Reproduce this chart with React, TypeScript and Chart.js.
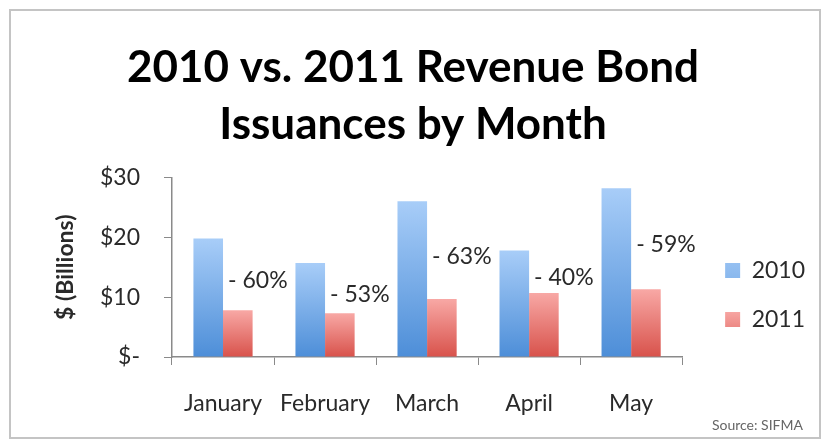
import React, { useEffect, useRef } from "react";
import { Chart, registerables } from "chart.js";

Chart.register(...registerables);

const months = ["January", "February", "March", "April", "May"];
const issuance2010 = [19.8, 15.7, 26.0, 17.8, 28.2];
const issuance2011 = [7.8, 7.3, 9.7, 10.7, 11.3];
const changeLabels = ["- 60%", "- 53%", "- 63%", "- 40%", "- 59%"];
const seriesNames = ["2010", "2011"];
const yTickValues = [0, 10, 20, 30];
const yTickLabels = ["$-", "$10", "$20", "$30"];
const titleLines = ["2010 vs. 2011 Revenue Bond", "Issuances by Month"];
const yAxisTitle = "$ (Billions)";
const sourceNote = "Source: SIFMA";

const FONT = "Lato, 'Open Sans', sans-serif";
const TEXT = "#2a2a2a";
const AXIS = "#8a8a8a";

function barGradient(top: string, bottom: string, solid: string) {
  return (ctx: any) => {
    const chart = ctx.chart;
    const y = chart.scales && chart.scales.y;
    if (ctx.type !== "data" || !y || !chart.chartArea) return solid;
    const v = ctx.parsed ? ctx.parsed.y : ctx.raw;
    const y0 = y.getPixelForValue(0);
    const y1 = y.getPixelForValue(v);
    if (!isFinite(y0) || !isFinite(y1) || y0 === y1) return solid;
    const g = chart.ctx.createLinearGradient(0, y1, 0, y0);
    g.addColorStop(0, top);
    g.addColorStop(1, bottom);
    return g;
  };
}

const changeLabelPlugin = {
  id: "changeLabels",
  afterDatasetsDraw(chart: any) {
    const m0 = chart.getDatasetMeta(0);
    const m1 = chart.getDatasetMeta(1);
    const ctx = chart.ctx;
    ctx.save();
    ctx.font = `23px ${FONT}`;
    ctx.fillStyle = TEXT;
    ctx.textAlign = "left";
    ctx.textBaseline = "middle";
    changeLabels.forEach((t, i) => {
      const b0 = m0.data[i];
      const b1 = m1.data[i];
      if (!b0 || !b1) return;
      const x = b1.x - b1.width / 2 + 5;
      const y = (b0.y + b1.y) / 2 + 6;
      ctx.fillText(t, x, y);
    });
    ctx.restore();
  },
};

const sourcePlugin = {
  id: "sourceNote",
  afterDraw(chart: any) {
    const ctx = chart.ctx;
    ctx.save();
    ctx.font = `14px ${FONT}`;
    ctx.fillStyle = "#666";
    ctx.textAlign = "right";
    ctx.textBaseline = "middle";
    ctx.fillText(sourceNote, chart.width - 16, chart.height - 12);
    ctx.restore();
  },
};

export default function App() {
  const ref = useRef<HTMLCanvasElement | null>(null);

  useEffect(() => {
    if (!ref.current) return;
    const chart = new Chart(ref.current, {
      type: "bar",
      data: {
        labels: months,
        datasets: [
          {
            label: seriesNames[0],
            data: issuance2010,
            backgroundColor: barGradient("#a8cdf8", "#4d8ed8", "#6fa8ec"),
            borderWidth: 0,
          },
          {
            label: seriesNames[1],
            data: issuance2011,
            backgroundColor: barGradient("#f8a8a5", "#d8524b", "#ec7d77"),
            borderWidth: 0,
          },
        ],
      },
      plugins: [changeLabelPlugin, sourcePlugin],
      options: {
        animation: false,
        responsive: true,
        maintainAspectRatio: false,
        layout: { padding: { left: 0, right: 4, top: 0, bottom: 22 } },
        datasets: {
          bar: { categoryPercentage: 0.58, barPercentage: 1 },
        },
        scales: {
          x: {
            offset: true,
            afterFit: (s: any) => {
              s.height = 58;
            },
            grid: {
              display: true,
              drawOnChartArea: false,
              tickLength: 8,
              color: AXIS,
              offset: true,
            },
            border: { display: true, color: AXIS, width: 1.5 },
            ticks: {
              color: TEXT,
              font: { family: FONT, size: 23 },
              padding: 25,
              maxRotation: 0,
            },
          },
          y: {
            min: 0,
            max: 30,
            afterBuildTicks: (s: any) => {
              s.ticks = yTickValues.map((v) => ({ value: v }));
            },
            afterFit: (s: any) => {
              s.width = 161;
            },
            grid: {
              display: true,
              drawOnChartArea: false,
              tickLength: 8,
              color: AXIS,
            },
            border: { display: true, color: AXIS, width: 1.5 },
            ticks: {
              color: TEXT,
              font: { family: FONT, size: 23 },
              padding: 24,
              callback: (_v: any, i: number) => yTickLabels[i],
            },
            title: {
              display: true,
              text: yAxisTitle,
              color: TEXT,
              font: { family: FONT, size: 23, weight: "bold" },
              padding: { top: 41, bottom: 0 },
            },
          },
          gap: {
            type: "linear",
            position: "right",
            display: true,
            grid: { display: false },
            ticks: { display: false },
            border: { display: false },
            afterFit: (s: any) => {
              s.width = 17;
            },
          },
        },
        plugins: {
          title: {
            display: true,
            text: titleLines,
            color: "#000",
            font: { family: FONT, size: 44, weight: "bold", lineHeight: 1.3 },
            padding: { top: 28, bottom: 24 },
          },
          legend: {
            display: true,
            position: "right",
            align: "end",
            fullSize: false,
            labels: {
              boxWidth: 15,
              boxHeight: 15,
              padding: 26,
              color: TEXT,
              font: { family: FONT, size: 23 },
            },
          },
          tooltip: { enabled: false },
        },
      } as any,
    });
    return () => chart.destroy();
  }, []);

  return (
    <div
      style={{
        position: "absolute",
        left: 9,
        top: 9,
        width: 812,
        height: 430,
        boxSizing: "border-box",
        border: "2px solid #c4c4c4",
        background: "#fff",
      }}
    >
      <div style={{ position: "relative", width: "100%", height: "100%" }}>
        <canvas ref={ref} />
      </div>
    </div>
  );
}
